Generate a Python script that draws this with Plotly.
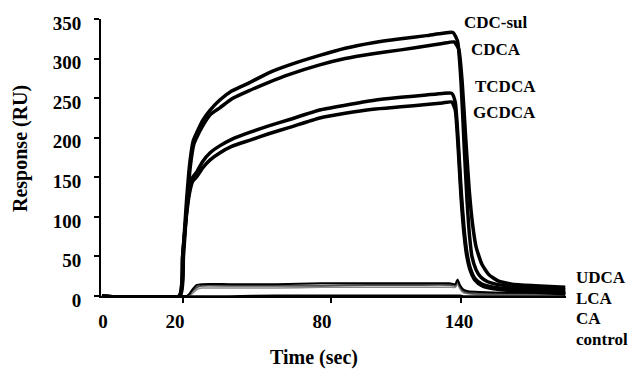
import plotly.graph_objects as go

# ---- data (time in sec, response in RU) ----
t_cdcsul = [-15, 18.5, 20, 21.5, 23, 24.5, 26, 28.5, 31.7, 36, 41, 49, 57, 66, 79, 90, 102, 114, 125, 132,
            136.5, 138.5, 140, 141.5, 142.6, 143.7, 144.7, 146.5, 148.5, 151.5, 155, 162, 172, 185]
v_cdcsul = [0, 0, 55, 120, 170, 197, 207, 222, 235, 248, 259, 270, 282, 292, 304, 313, 320, 325, 329, 332,
            333, 322, 270, 180, 120, 75, 50, 33, 24, 18, 15, 12, 10, 8]

t_cdca = [-15, 18.7, 20.2, 21.7, 23.2, 24.7, 26, 28.5, 31.7, 36, 41, 49, 57, 66, 79, 90, 102, 114, 125, 132,
          137, 139, 140.5, 142, 143.5, 145, 146.5, 149, 152, 156, 162, 172, 185]
v_cdca = [0, 0, 50, 115, 165, 192, 201, 215, 229, 238, 249, 260, 270, 280, 292, 300, 306, 311, 316, 319,
          321, 312, 270, 200, 135, 90, 62, 40, 27, 19, 15, 13, 11]

t_tg = [-15, 18.3, 19.8, 21.3, 22.8, 24.2, 26, 28.5, 31.7, 36, 41, 49, 57, 66, 79, 90, 102, 114, 125, 132,
        136, 137.5, 138.8, 140, 141.3, 142.5, 144, 146, 149, 154, 165, 185]
v_tcdca = [0, 0, 50, 100, 135, 150, 157, 170, 181, 190, 198, 207, 215, 223, 235, 241, 247, 251, 254, 256,
           256, 245, 195, 135, 85, 55, 35, 22, 15, 11, 8, 5]
v_gcdca = [0, 0, 48, 97, 130, 145, 151, 162, 172, 181, 189, 197, 205, 213, 225, 231, 236, 239, 242, 244,
           245, 235, 185, 125, 78, 50, 32, 20, 13, 9, 6, 3]

t_low = [-15, 20, 21.5, 22.5, 24, 26, 28, 40, 60, 80, 100, 120, 135, 137.5, 138.5, 139.5, 141, 143, 148, 160, 185]
v_udca = [0, 0, 0, 2, 8, 14, 15, 15, 15, 16, 16, 16, 16, 15, 21, 14, 8, 6, 5, 4, 4]
v_lca = [0, 0, 0, 1, 6, 11, 13, 13, 13, 13, 14, 14, 14, 13, 19, 12, 6, 4, 3, 3, 3]
v_ca = [0, 0, 0, 0, 3, 8, 10, 10, 10, 11, 11, 11, 11, 11, 15, 9, 4, 3, 2, 2, 2]
v_control = [0, 0, 0, 0, 0, 0, 0, 0, 1, 1, 1, 1, 1, 1, 1, 1, 0, 0, 0, 0, 0]

x_label_pos = [-14.5, 16.5, 80, 139.1]
x_label_text = ["0", "20", "80", "140"]
x_tick_marks = [20, 83.9, 140]
y_ticks = [0, 50, 100, 150, 200, 250, 300, 350]

FONT = "Liberation Serif, Times New Roman, serif"

fig = go.Figure()
series = [
    ("CA", t_low, v_ca, "#8a8a8a", 1.5),
    ("control", t_low, v_control, "black", 1.5),
    ("LCA", t_low, v_lca, "#505050", 2),
    ("UDCA", t_low, v_udca, "black", 2),
    ("GCDCA", t_tg, v_gcdca, "black", 3.5),
    ("TCDCA", t_tg, v_tcdca, "black", 3.5),
    ("CDCA", t_cdca, v_cdca, "black", 3.5),
    ("CDC-sul", t_cdcsul, v_cdcsul, "black", 3.5),
]
for name, t, v, c, w in series:
    fig.add_trace(go.Scatter(x=t, y=v, mode="lines", name=name,
                             line=dict(color=c, width=w, shape="spline", smoothing=0.5),
                             showlegend=False, hoverinfo="skip"))

W, H = 629, 369
L, T = 101, 19
B = H - 296
R = W - 566
pw, ph = W - L - R, H - T - B


def px2paper(px, py):
    return (px - L) / pw, (H - B - py) / ph


labels = [
    ("CDC-sul", 463, 23), ("CDCA", 470, 49), ("TCDCA", 474, 86), ("GCDCA", 472, 112),
    ("UDCA", 575, 277), ("LCA", 575, 298), ("CA", 575, 318), ("control", 575, 339),
]
for txt, px, py in labels:
    x, y = px2paper(px, py)
    fig.add_annotation(text=txt, xref="paper", yref="paper", x=x, y=y,
                       xanchor="left", yanchor="middle", showarrow=False, borderpad=0,
                       font=dict(family=FONT, size=17, color="black", weight="bold"))

# axis titles
x, y = px2paper(314, 357)
fig.add_annotation(text="Time (sec)", xref="paper", yref="paper", x=x, y=y,
                   xanchor="center", yanchor="middle", showarrow=False,
                   font=dict(family=FONT, size=20, color="black", weight="bold"))
x, y = px2paper(20, 149)
fig.add_annotation(text="Response (RU)", xref="paper", yref="paper", x=x, y=y, textangle=-90,
                   xanchor="center", yanchor="middle", showarrow=False,
                   font=dict(family=FONT, size=20, color="black", weight="bold"))

fig.update_layout(
    width=W, height=H, margin=dict(l=L, r=R, t=T, b=B, autoexpand=False),
    paper_bgcolor="white", plot_bgcolor="white",
    font=dict(family=FONT, color="black"),
)
fig.update_xaxes(
    range=[-15.4, 185.3], showgrid=False, zeroline=False, automargin=False,
    showline=True, linecolor="black", linewidth=2,
    tickmode="array", tickvals=x_label_pos, ticktext=x_label_text,
    ticks="", ticklabelstandoff=7, ticklabeloverflow="allow",
    tickfont=dict(family=FONT, size=19, color="black", weight="bold"),
    minor=dict(tickmode="array", tickvals=x_tick_marks, ticks="outside",
               ticklen=5, tickwidth=1.5, tickcolor="black", showgrid=False),
)
fig.update_yaxes(
    range=[0, 350], showgrid=False, zeroline=False, automargin=False,
    showline=True, linecolor="black", linewidth=2,
    tickmode="array", tickvals=y_ticks,
    ticks="outside", ticklen=5, tickwidth=1.5, tickcolor="black",
    ticklabelstandoff=9, ticklabelshift=4, ticklabeloverflow="allow",
    tickfont=dict(family=FONT, size=19, color="black", weight="bold"),
)
fig.write_html(
    "out.html",
    config={"displayModeBar": False},
    post_script="document.body.style.margin='0';document.documentElement.style.overflow='hidden';",
)
